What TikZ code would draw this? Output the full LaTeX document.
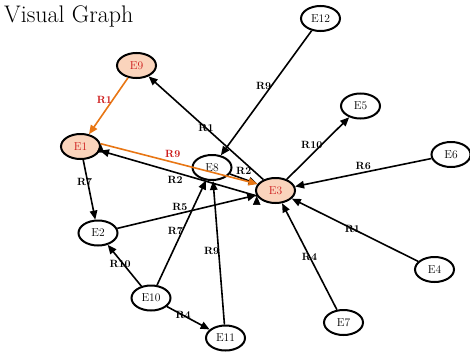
\documentclass[tikz,border=0pt]{standalone}
\usepackage{tikz}
\usetikzlibrary{shapes.geometric, arrows.meta}

\definecolor{peach}{RGB}{250,212,188}
\definecolor{hlorange}{RGB}{232,118,20}
\definecolor{hlred}{RGB}{205,25,25}

\begin{document}
\begin{tikzpicture}[x=1pt, y=-1pt]
    % settings for this picture
    \tikzset{
      ->,
      >={Triangle[length=9pt,width=7.5pt]},
      entity/.style={ellipse, draw, line width=2pt, minimum width=39pt,
        minimum height=25pt, inner sep=0pt, font=\fontsize{11.5}{13}\selectfont},
      picked/.style={entity, fill=peach, text=hlred},
      rel/.style={line width=1.6pt},
      hot/.style={rel, draw=hlorange},
      lbl/.style={font=\bfseries\fontsize{10.5}{12}\selectfont, inner sep=1pt},
      hotlbl/.style={lbl, text=hlred},
    }
    \useasboundingbox (0,0) rectangle (470,356);

    % title
    \node[anchor=base west, inner sep=0pt, font=\fontsize{24}{28}\selectfont] (title) at (4,22) {Visual Graph};

    % entities
    \node[picked] (e9) at (136.5,65.5) {E9};
    \node[picked] (e1) at (80.5,146.5) {E1};
    \node[picked] (e3) at (275.5,190.5) {E3};
    \node[entity] (e12) at (320.5,18.5) {E12};
    \node[entity] (e5) at (360.5,106) {E5};
    \node[entity] (e6) at (451,154.5) {E6};
    \node[entity] (e8) at (212,167.5) {E8};
    \node[entity] (e2) at (98,233) {E2};
    \node[entity] (e4) at (434.5,269.5) {E4};
    \node[entity] (e7) at (343.5,322.5) {E7};
    \node[entity] (e10) at (151,298) {E10};
    \node[entity] (e11) at (225.5,338) {E11};

    % relations
    \draw (e8) edge[rel] node[lbl, pos=.5, yshift=8pt] {R2} (e3)
          (e3) edge[rel] node[lbl, pos=.5] {R1} (e9)
          (e3.196) edge[rel] node[lbl, pos=.52, yshift=-8pt] {R2} (e1.-12)
          (e12) edge[rel] node[lbl, pos=.44, xshift=-8pt] {R9} (e8)
          (e3) edge[rel] node[lbl, pos=.4, yshift=9pt] {R10} (e5)
          (e6) edge[rel] node[lbl, pos=.5, yshift=7pt] {R6} (e3)
          (e4) edge[rel] node[lbl, pos=.52] {R1} (e3)
          (e7) edge[rel] node[lbl, pos=.5] {R4} (e3)
          (e1) edge[rel] node[lbl, pos=.37, xshift=-3pt] {R7} (e2)
          (e2) edge[rel] node[lbl, pos=.45, yshift=6pt] {R5} (e3)
          (e10) edge[rel] node[lbl, pos=.52, xshift=-7pt] {R7} (e8)
          (e10) edge[rel] node[lbl, pos=.54, xshift=-3pt] {R10} (e2)
          (e10) edge[rel] node[lbl, pos=.38] {R4} (e11)
          (e11) edge[rel] node[lbl, pos=.51, xshift=-7pt] {R9} (e8);

    % highlighted path
    \draw (e9) edge[hot] node[hotlbl, pos=.4, xshift=-8pt] {R1} (e1)
          (e1.8) edge[hot] node[hotlbl, pos=.46, yshift=8pt] {R9} (e3.160);
\end{tikzpicture}
\end{document}
